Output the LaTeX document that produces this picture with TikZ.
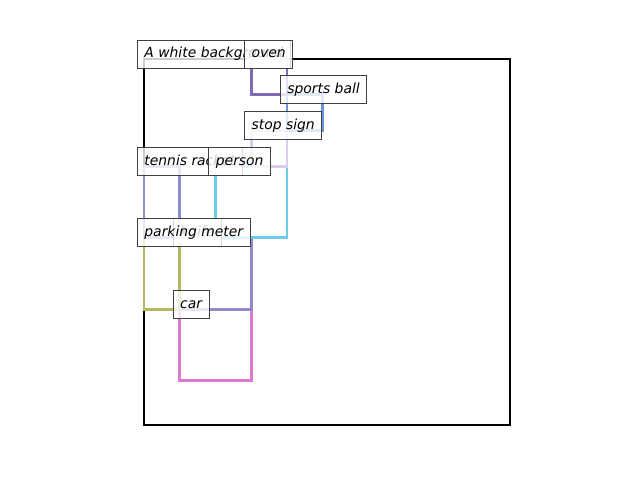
\documentclass[tikz,border=0pt]{standalone}
\usepackage{fontspec}
\setmainfont{DejaVu Sans}

\definecolor{ovencol}{HTML}{7E6DB6}
\definecolor{ballcol}{HTML}{6A95D8}
\definecolor{stopcol}{HTML}{D8CCE8}
\definecolor{personcol}{HTML}{6DCDE8}
\definecolor{racketcol}{HTML}{8A90D0}
\definecolor{metercol}{HTML}{B8B860}
\definecolor{knifecol}{HTML}{9088C8}
\definecolor{carcol}{HTML}{E07AD0}

\begin{document}
\begin{tikzpicture}[x=0.72pt,y=-0.72pt,
      box/.style={line width=1.9pt},
      tag/.style={draw=black!75,line width=0.6pt,fill=white,fill opacity=0.8,text opacity=1,
        anchor=west,inner xsep=5.04pt,minimum height=20.16pt,text height=7.6pt,text depth=2pt,
        font=\fontsize{10}{12}\selectfont\itshape,xshift=-5.04pt,yshift=3.6pt}]
      \useasboundingbox (0,0) rectangle (640,480);
      \begin{scope}[shift={(103.68pt,-42.48pt)},x=0.25733pt,y=-0.25733pt]
        % frame, then boxes
        \draw[line width=1.6pt] (0,0) rectangle (1024,1024);
        \draw[box,carcol] (100,700) rectangle (300,900);
        \draw[box,knifecol] (100,500) rectangle (300,700);
        \draw[box,metercol] (0,500) rectangle (100,700);
        \draw[box,racketcol] (0,300) rectangle (100,500);
        \draw[box,personcol] (200,300) rectangle (400,500);
        \draw[box,stopcol] (300,200) rectangle (400,300);
        \draw[box,ballcol] (400,100) rectangle (500,200);
        \draw[box,ovencol] (300,0) rectangle (400,100);
        % labels
        \node[tag] (bg) at (0,0) {A white background};
        \node[tag] (oven) at (300,0) {oven};
        \node[tag] (ball) at (400,100) {sports ball};
        \node[tag] (stop) at (300,200) {stop sign};
        \node[tag] (racket) at (0,300) {tennis racket};
        \node[tag] (person) at (200,300) {person};
        \node[tag] (knife) at (100,500) {knife};
        \node[tag] (meter) at (0,500) {parking meter};
        \node[tag] (car) at (100,700) {car};
      \end{scope}
\end{tikzpicture}
\end{document}
